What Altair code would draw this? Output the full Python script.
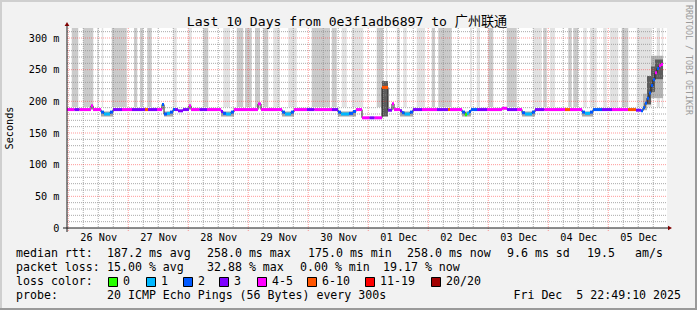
import altair as alt
import pandas as pd

# ---------------- data ----------------
TITLE = "Last 10 Days from 0e3f1adb6897 to 广州联通"
DAY_LABELS = ["26 Nov", "27 Nov", "28 Nov", "29 Nov", "30 Nov",
              "01 Dec", "02 Dec", "03 Dec", "04 Dec", "05 Dec"]
LOSS_LABELS = ["0", "1", "2", "3", "4-5", "6-10", "11-19", "20/20"]
LOSS_COLORS = ["#26ff00", "#00b8ff", "#0059ff", "#7e00ff",
               "#ff00ff", "#ff5500", "#ff0000", "#a10000"]

# median rtt steps: start (hours since 26 Nov 00:00), rtt (ms), loss bucket index
seg_start = [-0.5, 2.5, 4.5, 9.1, 9.9, 13.1, 14.3, 16.7, 17.9, 21.5, 25.5, 30.7, 31.9, 35.5,
             37.5, 38.3, 39.5, 40.7, 41.9, 42.7, 43.9, 45.9, 48.3, 49.1, 52.5, 55.5, 61.1,
             61.9, 63.1, 65.1, 66.3, 75.9, 77.1, 85.5, 86.7, 89.1, 90.3, 95.5, 98.5, 105.5,
             107.9, 109.1, 112.3, 113.9, 115.1, 117.5, 120.5, 122.5, 125.5, 127.9, 129.5,
             130.3, 132.7, 133.5, 134.5, 136.7, 137.9, 141.5, 147.5, 151.9, 152.7, 157.5,
             158.7, 159.5, 160.3, 161.1, 163.5, 167.5, 173.5, 175.5, 179.5, 181.5, 182.7,
             185.5, 186.7, 190.5, 198.7, 200.7, 205.5, 206.7, 208.7, 209.9, 213.5, 217.5,
             223.9, 227.1, 229.1, 229.9, 230.7, 231.5, 232.3, 233.1, 233.9, 234.7, 235.5,
             236.3, 237.1]
seg_rtt = [187, 187, 187, 193, 187, 183, 180, 183, 187, 187, 187, 187, 187, 187,
           195, 180, 181, 183, 187, 187, 185, 187, 193, 187, 187, 187, 184,
           181, 180, 183, 187, 196, 187, 183, 180, 183, 187, 187, 187, 187,
           183, 180, 181, 184, 187, 174, 174, 174, 222, 186, 196,
           187, 185, 182, 180, 183, 187, 187, 187, 187, 187, 183,
           179, 181, 184, 187, 187, 187, 189, 187, 187, 182, 180,
           183, 187, 187, 187, 187, 183, 181, 183, 187, 187, 187,
           187, 186, 185, 190, 197, 205, 213, 225, 234, 245, 252,
           256, 258]
seg_loss = [4, 3, 4, 4, 4, 2, 1, 2, 3, 4, 3, 5, 3, 4,
            2, 2, 1, 2, 2, 3, 3, 3, 4, 4, 3, 4, 3,
            2, 1, 2, 4, 4, 4, 2, 1, 2, 4, 3, 4, 3,
            2, 1, 2, 2, 4, 4, 3, 4, 5, 3, 4,
            4, 3, 2, 1, 2, 3, 4, 3, 5, 4, 2,
            0, 1, 2, 2, 3, 4, 4, 3, 4, 2, 1,
            2, 3, 4, 5, 4, 2, 1, 2, 2, 3, 4,
            5, 3, 2, 2, 2, 2, 2, 2, 2, 4, 2,
            4, 4]
SEG_LAST_END = 237.9

# smoke (ping spread reaching beyond the top of the graph)
smoke_start = [1.4, 6.0, 11.6, 13.4, 17.4, 26.3, 28.7, 31.6, 42.0, 48.0, 54.0, 62.0, 67.4,
               70.7, 74.7, 78.0, 82.0, 88.0, 97.4, 105.4, 109.4, 113.4, 123.4, 127.1, 131.4,
               134.0, 139.4, 145.4, 148.0, 160.7, 163.4, 168.0, 175.4, 186.0, 190.0, 192.7,
               200.0, 202.0, 206.0, 208.7, 214.0, 216.7, 221.4, 227.4, 235.4, 237.4]
smoke_end = [4.0, 10.0, 12.2, 14.0, 23.4, 27.6, 30.0, 33.4, 43.4, 49.4, 56.0, 64.7, 70.0,
             73.4, 76.7, 80.0, 84.7, 91.4, 104.7, 107.4, 111.4, 118.0, 126.0, 127.6, 132.7,
             135.4, 142.7, 146.7, 153.4, 161.4, 164.7, 170.0, 179.4, 189.4, 191.4, 194.7,
             201.4, 204.0, 207.4, 211.4, 215.4, 220.0, 224.0, 233.4, 236.7, 238.0]
smoke_kind = ["dense", "dense", "light", "light", "dense", "dense", "dense", "dense", "light",
              "light", "dense", "light", "dense", "dense", "dense", "dense", "light", "light",
              "dense", "dense", "light", "light", "dense", "light", "light", "light", "light",
              "dense", "dense", "light", "light", "dense", "dense", "light", "dense", "light",
              "dense", "dense", "light", "light", "light", "light", "dense", "light", "light",
              "light"]
SMOKE_FLOOR = 191
SMOKE_CEIL = 330

# smoke below the median during the nightly dips
dip_start = [13.1, 38.3, 61.1, 85.5, 107.9, 132.7, 157.5, 181.5, 205.5]
dip_end = [17.9, 41.9, 66.3, 90.3, 115.1, 137.9, 161.1, 186.7, 209.9]
DIP_LOW = 176

# dense smoke close to the median (spike on 01 Dec and rise on 05 Dec)
core_start = [125.5, 229.9, 233.1, 231.5, 233.1, 234.7]
core_end = [127.9, 231.5, 237.9, 233.1, 234.7, 237.9]
core_low = [176, 186, 205, 195, 215, 235]
core_high = [232, 212, 272, 240, 255, 266]
core_kind = ["core", "mid", "mid", "core", "core", "core"]

RTT_AVG, RTT_MAX, RTT_MIN, RTT_NOW = 187.2, 258.0, 175.0, 258.0
RTT_SD, RTT_AMS = 9.6, 19.5
LOSS_AVG, LOSS_MAX, LOSS_MIN, LOSS_NOW = 15.00, 32.88, 0.00, 19.17
PROBE = "20 ICMP Echo Pings (56 Bytes) every 300s"
STAMP = "Fri Dec  5 22:49:10 2025"

# ---------------- layout / style ----------------
W, H = 600, 200
X_DOM = [-0.5, 239.5]
Y_DOM = [0, 315.8]
MONO = "DejaVu Sans Mono"
MONO_CJK = "DejaVu Sans Mono, Noto Sans CJK SC"
NB = "\u00a0"
SHADE = {"dense": "#cbcbcb", "light": "#e2e2e2", "mid": "#b4b4b4", "core": "#5c5c5c",
         "dip": "#a8a8a8"}

xs = alt.Scale(domain=X_DOM, nice=False, zero=False)
ys = alt.Scale(domain=Y_DOM, nice=False, zero=False)

x_label_expr = "[" + ",".join(f"'{d}'" for d in DAY_LABELS) + "][floor(datum.value / 24)]"
y_label_expr = f"datum.value == 0 ? '0{NB}{NB}' : datum.value + '{NB}m'"
X_AXIS = alt.Axis(values=[12 + 24 * i for i in range(10)], labelExpr=x_label_expr, title=None,
                  domain=False, ticks=False, grid=False, labelFont=MONO, labelFontSize=10.2,
                  labelColor="#000000", labelPadding=4, labelBaseline="top", labelFlush=False,
                  labelOverlap=False, labelBound=False)
Y_AXIS = alt.Axis(values=list(range(0, 301, 50)), labelExpr=y_label_expr, title=None,
                  domain=False, ticks=False, grid=False, labelFont=MONO, labelFontSize=10.2,
                  labelColor="#000000", labelPadding=8, labelBaseline="middle", labelFlush=False,
                  labelOverlap=False, labelBound=False)


def X(field):
    return alt.X(field, scale=xs, axis=X_AXIS)


def Y(field):
    return alt.Y(field, scale=ys, axis=Y_AXIS)


seg_end = seg_start[1:] + [SEG_LAST_END]
seg_df = pd.DataFrame({"s": seg_start, "e": seg_end, "rtt": seg_rtt,
                       "loss": [LOSS_LABELS[i] for i in seg_loss],
                       "col": [LOSS_COLORS[i] for i in seg_loss]})
step_df = pd.DataFrame({"h": seg_start + [SEG_LAST_END], "rtt": seg_rtt + [seg_rtt[-1]]})
smoke_df = pd.DataFrame({"s": smoke_start, "e": smoke_end, "kind": smoke_kind,
                         "lo": SMOKE_FLOOR, "hi": SMOKE_CEIL})
smoke_df["col"] = smoke_df["kind"].map(SHADE)
dip_df = pd.DataFrame({"s": dip_start, "e": dip_end, "lo": DIP_LOW, "hi": 184})
dip_df["col"] = SHADE["dip"]
core_df = pd.DataFrame({"s": core_start, "e": core_end, "lo": core_low, "hi": core_high,
                        "kind": core_kind})
core_df["col"] = core_df["kind"].map(SHADE)

hmin = pd.DataFrame({"v": [v for v in range(10, 316, 10) if v % 50]})
hmaj = pd.DataFrame({"v": list(range(50, 301, 50))})
vmin = pd.DataFrame({"h": [h for h in range(0, 240, 6) if h % 24]})
vmaj = pd.DataFrame({"h": list(range(0, 240, 24))})

one = pd.DataFrame({"a": [0]})
V = alt.value

layers = []

# smoke
for df in (smoke_df, dip_df, core_df):
    layers.append(alt.Chart(df).mark_rect(clip=True).encode(
        x=X("s:Q"), x2="e:Q", y=Y("lo:Q"), y2="hi:Q", fill=alt.Fill("col:N", scale=None)))

# grid
grid_minor = dict(stroke="#8c8c8c", strokeOpacity=0.75, strokeDash=[1, 1], strokeWidth=1)
grid_major = dict(stroke="#ff2020", strokeOpacity=0.45, strokeDash=[1, 1], strokeWidth=1)
layers.append(alt.Chart(hmin).mark_rule(**grid_minor).encode(y=Y("v:Q"), x=V(0), x2=V(W)))
layers.append(alt.Chart(vmin).mark_rule(**grid_minor).encode(x=X("h:Q"), y=V(0), y2=V(H)))
layers.append(alt.Chart(hmaj).mark_rule(**grid_major).encode(y=Y("v:Q"), x=V(0), x2=V(W)))
layers.append(alt.Chart(vmaj).mark_rule(**grid_major).encode(x=X("h:Q"), y=V(0), y2=V(H + 4)))

# median line
layers.append(alt.Chart(step_df).mark_line(interpolate="step-after", color="#1e1e1e",
                                           strokeWidth=1, clip=True).encode(
    x=X("h:Q"), y=Y("rtt:Q")))
layers.append(alt.Chart(seg_df).mark_rule(strokeWidth=3, strokeCap="butt").encode(
    x=X("s:Q"), x2="e:Q", y=Y("rtt:Q"),
    color=alt.Color("col:N", scale=None),
    tooltip=["rtt:Q", "loss:N"]))

# axis lines with arrows
AX = "#1a1a1a"
ARROW = "#7f0000"
layers.append(alt.Chart(one).mark_rule(color=AX, strokeWidth=1).encode(
    x=V(0), y=V(H + 4), y2=V(-4)))
layers.append(alt.Chart(one).mark_rule(color=AX, strokeWidth=1).encode(
    x=V(-4), x2=V(W + 1), y=V(H)))
layers.append(alt.Chart(one).mark_point(shape="triangle-up", filled=True, color=ARROW,
                                        size=22, opacity=1).encode(x=V(0), y=V(-4)))
layers.append(alt.Chart(one).mark_point(shape="triangle-right", filled=True, color=ARROW,
                                        size=22, opacity=1).encode(x=V(W + 3), y=V(H)))

# title, unit label and watermark
layers.append(alt.Chart(one).mark_text(text=TITLE, font=MONO_CJK, fontSize=13.1,
                                       align="center", baseline="middle",
                                       color="#000000").encode(x=V(347 - 67), y=V(22 - 28)))
layers.append(alt.Chart(one).mark_text(text="Seconds", font=MONO, fontSize=10.2, angle=270,
                                       align="center", baseline="middle",
                                       color="#000000").encode(x=V(10 - 67), y=V(H / 2)))
layers.append(alt.Chart(one).mark_text(text="RRDTOOL / TOBI OETIKER", font=MONO, fontSize=8.3,
                                       angle=90, align="center", baseline="middle",
                                       color="#9a9a9a").encode(x=V(688 - 67), y=V(60 - 28)))


# legend block (canvas coords -> plot coords)
def T(text, cx, cy, align="left"):
    return alt.Chart(one).mark_text(text=text, font=MONO, fontSize=11.6, align=align,
                                    baseline="middle", color="#000000").encode(
        x=V(cx - 67), y=V(cy - 28))


R1, R2, R3, R4 = 254, 268, 282, 296
layers += [
    T("median rtt:", 16, R1),
    T(f"{RTT_AVG:.1f} ms avg", 107, R1),
    T(f"{RTT_MAX:.1f} ms max", 207, R1),
    T(f"{RTT_MIN:.1f} ms min", 308, R1),
    T(f"{RTT_NOW:.1f} ms now", 407, R1),
    T(f"{RTT_SD:.1f} ms sd", 507, R1),
    T(f"{RTT_AMS:.1f}", 587, R1),
    T("am/s", 635, R1),
    T("packet loss:", 16, R2),
    T(f"{LOSS_AVG:.2f} % avg", 107, R2),
    T(f"{LOSS_MAX:.2f} % max", 207, R2),
    T(f"{LOSS_MIN:.2f} % min", 300, R2),
    T(f"{LOSS_NOW:.2f} % now", 383, R2),
    T("loss color:", 16, R3),
    T("probe:", 16, R4),
    T(PROBE, 107, R4),
    T(STAMP.replace(" ", NB), 681, R4, align="right"),
]
BOX_X = [108, 146, 183, 219, 257, 307, 365, 431]
for bx, lab, col in zip(BOX_X, LOSS_LABELS, LOSS_COLORS):
    layers.append(alt.Chart(one).mark_rect(fill=col, stroke="#000000", strokeWidth=1).encode(
        x=V(bx - 67 + 0.5), x2=V(bx - 67 + 9.5), y=V(R3 - 28 - 4.5), y2=V(R3 - 28 + 4.5)))
    layers.append(T(lab, bx + 15, R3))

# frame around the image
FL, FT, FR, FB = -67, -28, 697 - 67, 310 - 28
for (a, b, c, d, col) in [(FL, FR, FT, FT + 2, "#cfcfcf"), (FL, FL + 2, FT, FB, "#cfcfcf"),
                          (FR - 2, FR, FT, FB, "#9a9a9a"), (FL, FR, FB - 2, FB, "#9a9a9a")]:
    layers.append(alt.Chart(one).mark_rect(fill=col).encode(
        x=V(a), x2=V(b), y=V(c), y2=V(d)))

chart = alt.layer(*layers).properties(
    width=W, height=H,
    padding={"left": 67, "top": 28, "right": 30, "bottom": 82},
    autosize=alt.AutoSizeParams(type="none"),
).configure(background="#f2f2f2").configure_view(
    stroke=None, fill="#ffffff").configure_axis(labelOverlap=False)

chart.save("out.html", embed_options={"renderer": "svg", "actions": False})
